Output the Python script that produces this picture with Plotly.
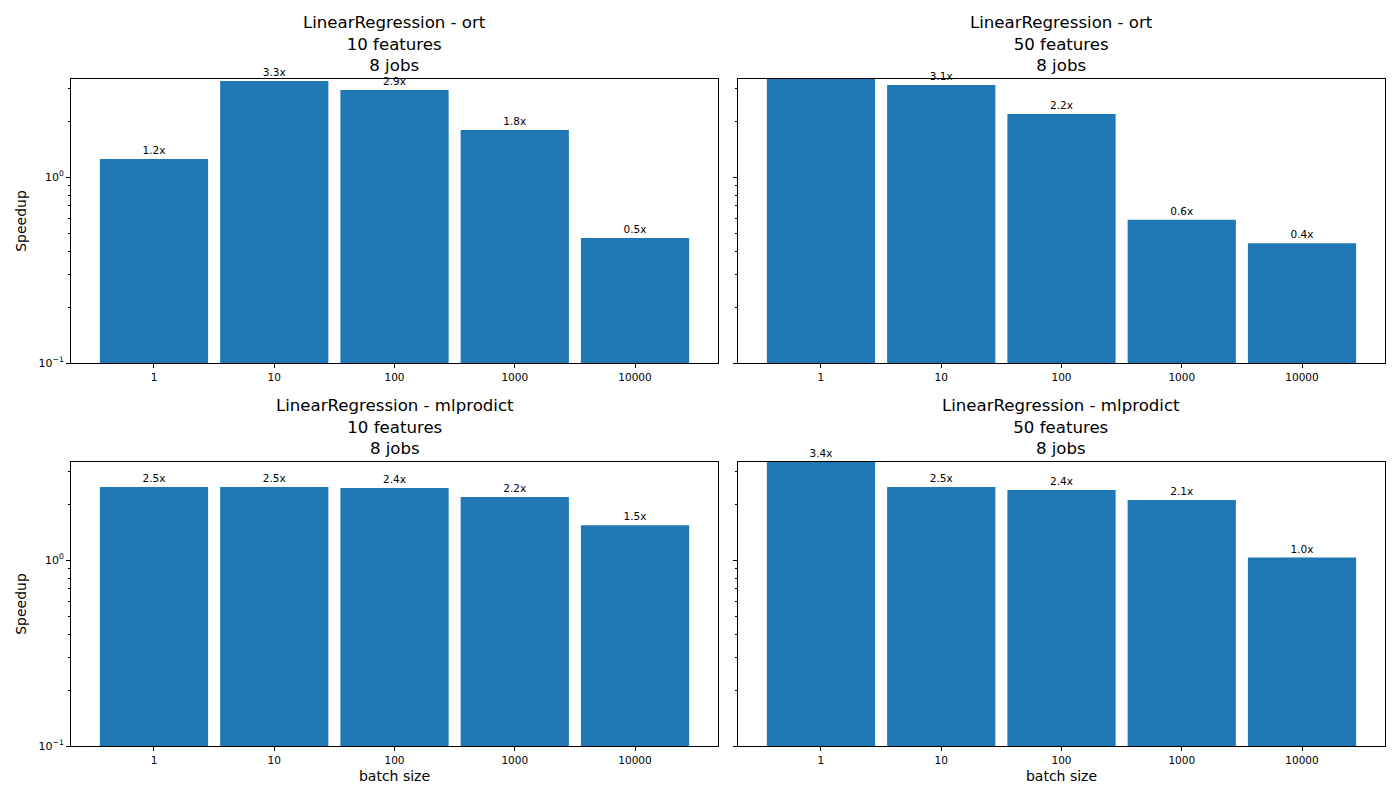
import plotly.graph_objects as go

batch_sizes = ["1", "10", "100", "1000", "10000"]
ort_10 = [1.25, 3.28, 2.94, 1.79, 0.47]
ort_50 = [3.6, 3.12, 2.18, 0.59, 0.44]
mlp_10 = [2.47, 2.47, 2.44, 2.18, 1.54]
mlp_50 = [3.36, 2.47, 2.38, 2.10, 1.03]
titles = [
    "LinearRegression - ort<br>10 features<br>8 jobs",
    "LinearRegression - ort<br>50 features<br>8 jobs",
    "LinearRegression - mlprodict<br>10 features<br>8 jobs",
    "LinearRegression - mlprodict<br>50 features<br>8 jobs",
]
series = [ort_10, ort_50, mlp_10, mlp_50]

ymin, ymax_log = -1, 0.527
ymax = 10 ** ymax_log
BLUE = "#1f77b4"
FONT = "DejaVu Sans"

xd = [[0, 0.4924], [0.5076, 1.0]]
yd = [[0.5742, 1.0], [0.0, 0.4258]]

fig = go.Figure()
annotations = []
for i, vals in enumerate(series):
    r, c = divmod(i, 2)
    n = i + 1
    xa = "x" if n == 1 else f"x{n}"
    ya = "y" if n == 1 else f"y{n}"
    labels = [f"{v:.1f}x" if v <= ymax * 1.01 else None for v in vals]
    fig.add_trace(go.Bar(
        x=list(range(len(batch_sizes))), y=vals, width=0.9,
        marker=dict(color=BLUE, line=dict(width=0)),
        text=labels, textposition="outside", cliponaxis=False,
        textfont=dict(size=10.5, color="black", family=FONT),
        xaxis=xa, yaxis=ya, showlegend=False, hoverinfo="skip",
    ))
    xkey = "xaxis" if n == 1 else f"xaxis{n}"
    ykey = "yaxis" if n == 1 else f"yaxis{n}"
    xaxis = dict(
        domain=xd[c], anchor=ya, range=[-0.69, 4.69],
        tickvals=list(range(len(batch_sizes))), ticktext=batch_sizes,
        ticks="outside", ticklen=4, tickcolor="black",
        showline=True, linecolor="black", linewidth=1, mirror=True,
        showgrid=False, zeroline=False,
        tickfont=dict(size=10.5, family=FONT, color="black"),
    )
    if r == 1:
        xaxis["title"] = dict(text="batch size", font=dict(size=14, family=FONT, color="black"), standoff=6)
    fig.layout[xkey] = xaxis
    minor_vals = [k * 0.1 for k in range(2, 10)] + [float(k) for k in range(2, 4)]
    yaxis = dict(
        domain=yd[r], anchor=xa, type="log", range=[ymin, ymax_log],
        tickvals=[0.1, 1], ticktext=["10<sup>−1</sup>", "10<sup>0</sup>"],
        showticklabels=(c == 0),
        ticks="outside", ticklen=4, tickcolor="black",
        minor=dict(tickvals=minor_vals, ticks="outside", ticklen=2, tickcolor="black"),
        showline=True, linecolor="black", linewidth=1, mirror=True,
        showgrid=False, zeroline=False,
        tickfont=dict(size=11, family=FONT, color="black"),
    )
    if c == 0:
        yaxis["title"] = dict(text="Speedup", font=dict(size=14, family=FONT, color="black"), standoff=8)
    fig.layout[ykey] = yaxis
    annotations.append(dict(
        text=titles[i], x=(xd[c][0] + xd[c][1]) / 2, y=yd[r][1],
        xref="paper", yref="paper", xanchor="center", yanchor="bottom",
        showarrow=False, yshift=2, font=dict(size=16.6, family=FONT, color="black"),
    ))

fig.update_layout(
    width=1384, height=784,
    margin=dict(l=63, r=7, t=71, b=46),
    plot_bgcolor="white", paper_bgcolor="white",
    annotations=annotations,
    font=dict(family=FONT, color="black"),
)
fig.write_html("out.html")
